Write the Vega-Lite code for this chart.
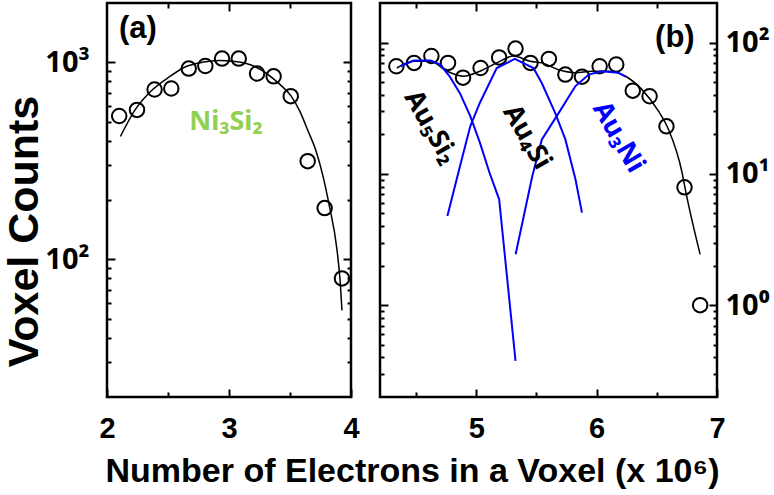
{
  "$schema": "https://vega.github.io/schema/vega-lite/v6.json",
  "padding": {"left": 2, "top": 0, "right": 2, "bottom": 2},
  "bounds": "flush",
  "config": {
    "view": {"stroke": "black", "strokeWidth": 2.5},
    "font": "Liberation Sans",
    "axis": {
      "domain": false, "grid": false, "tickColor": "black", "tickWidth": 2,
      "labelFont": "Liberation Sans", "labelFontWeight": "bold", "labelFontSize": 29,
      "labelColor": "black", "labelOverlap": false, "labelFlush": false,
      "titleFont": "Liberation Sans", "titleFontWeight": "bold", "titleColor": "black"
    }
  },
  "title": {
    "text": "Number of Electrons in a Voxel (x 10⁶)", "orient": "bottom", "anchor": "middle",
    "font": "Liberation Sans", "fontSize": 34, "fontWeight": "bold", "color": "black", "dx": 26, "offset": 8
  },
  "spacing": 29,
  "hconcat": [
    {
      "width": 244, "height": 394,
      "resolve": {"axis": {"x": "independent", "y": "independent"}},
      "layer": [
        {
          "data": {"values": [
            {"x": 2.10, "count": 534}, {"x": 2.246, "count": 573}, {"x": 2.39, "count": 728},
            {"x": 2.527, "count": 736}, {"x": 2.67, "count": 929}, {"x": 2.806, "count": 958},
            {"x": 2.943, "count": 1044}, {"x": 3.08, "count": 1044}, {"x": 3.23, "count": 877},
            {"x": 3.366, "count": 849}, {"x": 3.506, "count": 673}, {"x": 3.645, "count": 315},
            {"x": 3.784, "count": 182}, {"x": 3.926, "count": 80}
          ]},
          "mark": {"type": "point", "shape": "circle", "filled": false, "size": 210, "stroke": "black", "strokeWidth": 2, "opacity": 1},
          "encoding": {
            "x": {"field": "x", "type": "quantitative", "scale": {"domain": [2, 4], "nice": false, "zero": false},
              "axis": {"orient": "bottom", "values": [2, 2.5, 3, 3.5, 4], "title": null,
                "labelExpr": "datum.value % 1 == 0 ? format(datum.value, 'd') : ''",
                "tickSize": {"condition": {"test": "datum.value % 1 == 0", "value": -8}, "value": -5},
                "labelPadding": 25}},
            "y": {"field": "count", "type": "quantitative", "scale": {"type": "log", "domain": [20, 2000], "nice": false},
              "axis": {"orient": "left", "values": [30, 40, 50, 60, 70, 80, 90, 100, 200, 300, 400, 500, 600, 700, 800, 900, 1000],
                "labelExpr": "datum.value == 100 ? '10²' : datum.value == 1000 ? '10³' : ''",
                "labelFont": "Noto Sans",
                "tickSize": {"condition": {"test": "datum.value == 100 || datum.value == 1000", "value": -8}, "value": -4},
                "labelPadding": 26, "title": "Voxel Counts", "titleFontSize": 43, "titlePadding": -2, "titleY": 228}}
          }
        },
        {
          "data": {"values": [
            {"x": 2.11, "count": 420}, {"x": 2.23, "count": 573}, {"x": 2.37, "count": 723},
            {"x": 2.51, "count": 843}, {"x": 2.64, "count": 947}, {"x": 2.78, "count": 1000},
            {"x": 2.92, "count": 1020}, {"x": 3.05, "count": 1010}, {"x": 3.22, "count": 947},
            {"x": 3.41, "count": 779}, {"x": 3.51, "count": 673}, {"x": 3.58, "count": 565},
            {"x": 3.65, "count": 445}, {"x": 3.71, "count": 360}, {"x": 3.77, "count": 265},
            {"x": 3.82, "count": 190}, {"x": 3.885, "count": 112}, {"x": 3.912, "count": 76},
            {"x": 3.926, "count": 55}
          ]},
          "mark": {"type": "line", "color": "black", "strokeWidth": 1.5, "interpolate": "monotone"},
          "encoding": {
            "x": {"field": "x", "type": "quantitative", "scale": {"domain": [2, 4], "nice": false, "zero": false},
              "axis": {"orient": "top", "values": [2.5, 3, 3.5], "labels": false, "title": null,
                "tickSize": {"condition": {"test": "datum.value % 1 == 0", "value": -8}, "value": -5}}},
            "y": {"field": "count", "type": "quantitative", "scale": {"type": "log", "domain": [20, 2000], "nice": false},
              "axis": {"orient": "right", "values": [30, 40, 50, 60, 70, 80, 90, 100, 200, 300, 400, 500, 600, 700, 800, 900, 1000],
                "labels": false, "title": null,
                "tickSize": {"condition": {"test": "datum.value == 100 || datum.value == 1000", "value": -8}, "value": -4}}}
          }
        },
        {
          "data": {"values": [{"x": 2.254, "count": 1468, "label": "(a)"}]},
          "mark": {"type": "text", "font": "Liberation Sans", "fontWeight": "bold", "fontSize": 31, "color": "black", "align": "center", "baseline": "middle"},
          "encoding": {
            "x": {"field": "x", "type": "quantitative", "axis": null},
            "y": {"field": "count", "type": "quantitative", "axis": null},
            "text": {"field": "label"}
          }
        },
        {
          "data": {"values": [{"x": 2.975, "count": 497, "label": "Ni₃Si₂"}]},
          "mark": {"type": "text", "font": "Noto Sans", "fontWeight": "bold", "fontSize": 27, "color": "#92d050", "align": "center", "baseline": "middle"},
          "encoding": {
            "x": {"field": "x", "type": "quantitative", "axis": null},
            "y": {"field": "count", "type": "quantitative", "axis": null},
            "text": {"field": "label"}
          }
        }
      ]
    },
    {
      "width": 337, "height": 394,
      "resolve": {"axis": {"x": "independent", "y": "independent"}},
      "layer": [
        {
          "data": {"values": [
            {"x": 4.336, "count": 66}, {"x": 4.483, "count": 70}, {"x": 4.627, "count": 79},
            {"x": 4.765, "count": 70}, {"x": 4.89, "count": 54}, {"x": 5.036, "count": 64},
            {"x": 5.19, "count": 77}, {"x": 5.326, "count": 90}, {"x": 5.45, "count": 70},
            {"x": 5.603, "count": 75}, {"x": 5.74, "count": 57}, {"x": 5.878, "count": 55},
            {"x": 6.025, "count": 66}, {"x": 6.163, "count": 68}, {"x": 6.30, "count": 43},
            {"x": 6.44, "count": 39}, {"x": 6.58, "count": 23}, {"x": 6.73, "count": 7.9},
            {"x": 6.86, "count": 1.0}
          ]},
          "mark": {"type": "point", "shape": "circle", "filled": false, "size": 210, "stroke": "black", "strokeWidth": 2, "opacity": 1},
          "encoding": {
            "x": {"field": "x", "type": "quantitative", "scale": {"domain": [4.2, 7], "nice": false, "zero": false},
              "axis": {"orient": "bottom", "values": [4.5, 5, 5.5, 6, 6.5, 7], "title": null,
                "labelExpr": "datum.value % 1 == 0 ? format(datum.value, 'd') : ''",
                "tickSize": {"condition": {"test": "datum.value % 1 == 0", "value": -8}, "value": -5},
                "labelPadding": 25}},
            "y": {"field": "count", "type": "quantitative", "scale": {"type": "log", "domain": [0.2, 200], "nice": false},
              "axis": {"orient": "left", "values": [0.3, 0.4, 0.5, 0.6, 0.7, 0.8, 0.9, 1, 2, 3, 4, 5, 6, 7, 8, 9, 10, 20, 30, 40, 50, 60, 70, 80, 90, 100],
                "labels": false, "title": null,
                "tickSize": {"condition": {"test": "datum.value == 1 || datum.value == 10 || datum.value == 100", "value": -8}, "value": -4}}}
          }
        },
        {
          "data": {"values": [
            {"x": 4.34, "count": 64}, {"x": 4.48, "count": 72}, {"x": 4.62, "count": 72},
            {"x": 4.757, "count": 60.5}, {"x": 4.895, "count": 55.4}, {"x": 5.03, "count": 60.5},
            {"x": 5.17, "count": 70}, {"x": 5.31, "count": 79}, {"x": 5.446, "count": 72},
            {"x": 5.545, "count": 70}, {"x": 5.684, "count": 62}, {"x": 5.824, "count": 59},
            {"x": 5.96, "count": 60.5}, {"x": 6.10, "count": 60.5}, {"x": 6.24, "count": 55.4},
            {"x": 6.375, "count": 44}, {"x": 6.514, "count": 30}, {"x": 6.597, "count": 21.8},
            {"x": 6.71, "count": 10.2}, {"x": 6.737, "count": 7.6}, {"x": 6.86, "count": 2.44}
          ]},
          "mark": {"type": "line", "color": "black", "strokeWidth": 1.5, "interpolate": "monotone"},
          "encoding": {
            "x": {"field": "x", "type": "quantitative", "scale": {"domain": [4.2, 7], "nice": false, "zero": false},
              "axis": {"orient": "top", "values": [4.5, 5, 5.5, 6, 6.5], "labels": false, "title": null,
                "tickSize": {"condition": {"test": "datum.value % 1 == 0", "value": -8}, "value": -5}}},
            "y": {"field": "count", "type": "quantitative", "scale": {"type": "log", "domain": [0.2, 200], "nice": false},
              "axis": {"orient": "right", "values": [0.3, 0.4, 0.5, 0.6, 0.7, 0.8, 0.9, 1, 2, 3, 4, 5, 6, 7, 8, 9, 10, 20, 30, 40, 50, 60, 70, 80, 90, 100],
                "labelExpr": "datum.value == 1 ? '10⁰' : datum.value == 10 ? '10¹' : datum.value == 100 ? '10²' : ''",
                "labelFont": "Noto Sans",
                "labelPadding": 16, "title": null,
                "tickSize": {"condition": {"test": "datum.value == 1 || datum.value == 10 || datum.value == 100", "value": -8}, "value": -4}}}
          }
        },
        {
          "data": {"values": [
            {"series": "Au5Si2", "x": 4.37, "count": 66}, {"series": "Au5Si2", "x": 4.48, "count": 73},
            {"series": "Au5Si2", "x": 4.62, "count": 73}, {"series": "Au5Si2", "x": 4.70, "count": 68},
            {"series": "Au5Si2", "x": 4.78, "count": 55}, {"series": "Au5Si2", "x": 4.865, "count": 41},
            {"series": "Au5Si2", "x": 4.95, "count": 27.5}, {"series": "Au5Si2", "x": 5.03, "count": 17.3},
            {"series": "Au5Si2", "x": 5.11, "count": 10.2}, {"series": "Au5Si2", "x": 5.19, "count": 6.4},
            {"series": "Au5Si2", "x": 5.326, "count": 0.377},
            {"series": "Au4Si", "x": 4.76, "count": 4.78}, {"series": "Au4Si", "x": 4.865, "count": 11.5},
            {"series": "Au4Si", "x": 4.95, "count": 23}, {"series": "Au4Si", "x": 5.03, "count": 34.8},
            {"series": "Au4Si", "x": 5.17, "count": 64}, {"series": "Au4Si", "x": 5.32, "count": 75},
            {"series": "Au4Si", "x": 5.475, "count": 64}, {"series": "Au4Si", "x": 5.545, "count": 49},
            {"series": "Au4Si", "x": 5.656, "count": 29}, {"series": "Au4Si", "x": 5.74, "count": 18.3},
            {"series": "Au4Si", "x": 5.824, "count": 9.1}, {"series": "Au4Si", "x": 5.878, "count": 5.07},
            {"series": "Au3Ni", "x": 5.327, "count": 2.44}, {"series": "Au3Ni", "x": 5.465, "count": 9.6},
            {"series": "Au3Ni", "x": 5.545, "count": 18.3}, {"series": "Au3Ni", "x": 5.684, "count": 29},
            {"series": "Au3Ni", "x": 5.824, "count": 46.6}, {"series": "Au3Ni", "x": 5.935, "count": 57},
            {"series": "Au3Ni", "x": 6.04, "count": 60.5}, {"series": "Au3Ni", "x": 6.18, "count": 59},
            {"series": "Au3Ni", "x": 6.24, "count": 55}
          ]},
          "mark": {"type": "line", "color": "#0000ff", "strokeWidth": 2},
          "encoding": {
            "x": {"field": "x", "type": "quantitative", "axis": null},
            "y": {"field": "count", "type": "quantitative", "axis": null},
            "detail": {"field": "series"}
          }
        },
        {
          "data": {"values": [{"x": 6.65, "count": 109, "label": "(b)"}]},
          "mark": {"type": "text", "font": "Liberation Sans", "fontWeight": "bold", "fontSize": 31, "color": "black", "align": "center", "baseline": "middle"},
          "encoding": {
            "x": {"field": "x", "type": "quantitative", "axis": null},
            "y": {"field": "count", "type": "quantitative", "axis": null},
            "text": {"field": "label"}
          }
        },
        {
          "data": {"values": [
            {"x": 4.62, "count": 22.6, "label": "Au₅Si₂"},
            {"x": 5.42, "count": 19, "label": "Au₄Si"}
          ]},
          "mark": {"type": "text", "font": "Noto Sans", "fontWeight": "bold", "fontSize": 27, "color": "black", "align": "center", "baseline": "middle", "angle": 60},
          "encoding": {
            "x": {"field": "x", "type": "quantitative", "axis": null},
            "y": {"field": "count", "type": "quantitative", "axis": null},
            "text": {"field": "label"}
          }
        },
        {
          "data": {"values": [{"x": 6.18, "count": 19, "label": "Au₃Ni"}]},
          "mark": {"type": "text", "font": "Noto Sans", "fontWeight": "bold", "fontSize": 27, "color": "#0000ff", "align": "center", "baseline": "middle", "angle": 60},
          "encoding": {
            "x": {"field": "x", "type": "quantitative", "axis": null},
            "y": {"field": "count", "type": "quantitative", "axis": null},
            "text": {"field": "label"}
          }
        }
      ]
    }
  ]
}
